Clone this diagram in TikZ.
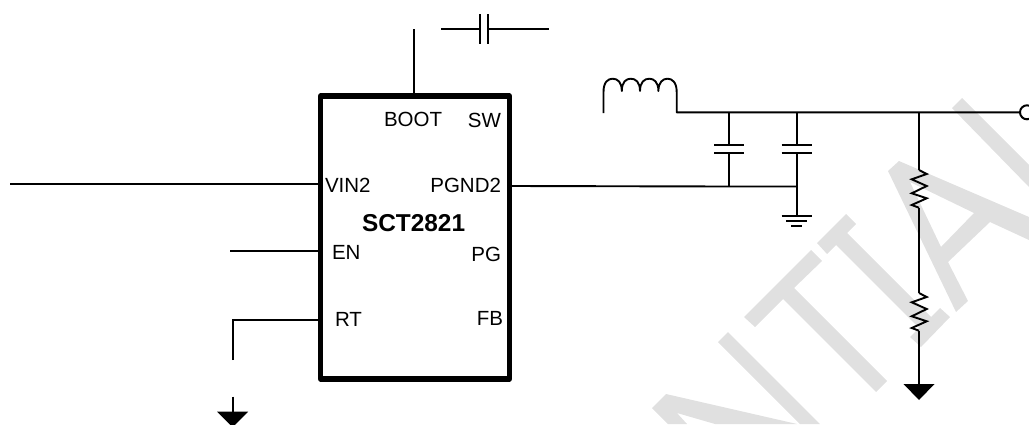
\documentclass[tikz,border=0pt]{standalone}
\usepackage{fontspec}
\setmainfont{Liberation Sans}
\usetikzlibrary{calc}
\definecolor{wmgray}{HTML}{E0E0E0}
\tikzset{
  wire/.style={draw=black,line width=1.9pt,line join=miter},
  plate/.style={draw=black,line width=2pt},
  wm/.style={fill=wmgray,draw=none},
  icbox/.style={draw=black,line width=5.4pt,line join=round,rectangle,inner sep=0pt,outer sep=0pt,minimum width=188.5pt,minimum height=283pt},
  pinlabel/.style={inner sep=0pt,outer sep=0pt,anchor=base west,font=\fontsize{20.5}{24}\selectfont},
  pinlabelr/.style={inner sep=0pt,outer sep=0pt,anchor=base east,font=\fontsize{20.5}{24}\selectfont},
  chipname/.style={inner sep=0pt,outer sep=0pt,anchor=base west,font=\fontsize{24.4}{28}\selectfont\bfseries},
  gndtri/.style={fill=black,draw=none},
}
\begin{document}
\begin{tikzpicture}[x=1pt,y=-1pt]
\clip (0,0) rectangle (1029,424);
\useasboundingbox (0,0) rectangle (1029,424);
% watermark
\fill[wm] (962,98) -- (1029,165) -- (1029,187) -- (952,108) -- cycle;
\fill[wm,even odd rule] (899,161) -- (1029,217) -- (1029,240) -- (990,222) -- (948,262) -- (968,301) -- (956,312) -- (888,171) -- cycle
      (910,182) -- (974,213) -- (941,247) -- cycle;
\fill[wm] (817,243) -- (846,214) -- (856,224) -- (847,233) -- (931,317) -- (940,308) -- (950,317) -- (921,347) -- (910,337) -- (919,328) -- (836,245) -- (827,254) -- cycle;
\fill[wm] (744,317) -- (811,250) -- (822,261) -- (794,288) -- (887,381) -- (876,392) -- (783,299) -- (755,327) -- cycle;
\fill[wm] (718,342) -- (728,332) -- (820,424) -- (800,424) -- cycle;
\fill[wm] (652,408) -- (666,394) -- (797,424) -- (715,424) -- (677,413) -- (687,424) -- (668,424) -- cycle;
% IC
\node[icbox] (ic) at (415,237.5) {};
\node[pinlabel] (lboot) at (384,126.7) {BOOT};
\node[pinlabelr] (lsw) at (501,127) {SW};
\node[pinlabel] (lvin) at (325,192.7) {VIN2};
\node[pinlabelr] (lpgnd) at (501,192.7) {PGND2};
\node[chipname] (lchip) at (362,231) {SCT2821};
\node[pinlabel] (len) at (332,259) {EN};
\node[pinlabelr] (lpg) at (501,261) {PG};
\node[pinlabel] (lrt) at (335,326) {RT};
\node[pinlabelr] (lfb) at (503,325) {FB};
% named points
\coordinate (bootpin) at (414.3,96);
\coordinate (boottop) at (414.3,29);
\coordinate (vinpin) at (318,184);
\coordinate (vinend) at (10,184);
\coordinate (enpin) at (318,251);
\coordinate (enend) at (230,251);
\coordinate (rtpin) at (318,320);
\coordinate (rtcorner) at (232.7,320);
\coordinate (rtend) at (232.7,360);
\coordinate (gndltop) at (232.7,396.7);
\coordinate (gndlbase) at (232.7,411.7);
\coordinate (pgndpin) at (511,186);
\coordinate (c1bot) at (729.3,186.5);
\coordinate (c2bot) at (796.7,186.5);
\coordinate (c1top) at (729.3,112.3);
\coordinate (c2top) at (796.7,112.3);
\coordinate (c1a) at (729.3,145);
\coordinate (c1b) at (729.3,152.7);
\coordinate (c2a) at (796.7,145);
\coordinate (c2b) at (796.7,152.7);
\coordinate (gndc) at (796.7,216);
\coordinate (capl) at (441,29.3);
\coordinate (capa) at (480.3,29.3);
\coordinate (capb) at (488,29.3);
\coordinate (capr) at (548.5,29.3);
\coordinate (lstart) at (603.5,113);
\coordinate (lend) at (676.7,112.3);
\coordinate (rnode) at (919,112.3);
\coordinate (r1t) at (919,170);
\coordinate (r1b) at (919,207.7);
\coordinate (r2t) at (919,293);
\coordinate (r2b) at (919,330.7);
\coordinate (gndrbase) at (919,384);
\node[circle,draw=black,line width=2pt,minimum size=14pt,inner sep=0pt,outer sep=0pt,fill=white] (vout) at (1027,112.3) {};
% wires
\draw[wire] (boottop) -- (bootpin);
\draw[wire] (vinend) -- (vinpin);
\draw[wire] (enend) -- (enpin);
\draw[wire] (rtend) -- (rtcorner) -- (rtpin);
\draw[wire] (gndltop) -- (gndlbase);
\fill[gndtri] ($(gndlbase)+(-15.5,0)$) -- ($(gndlbase)+(15.5,0)$) -- ($(gndlbase)+(0,15.5)$) -- cycle;
\draw[wire] (pgndpin) -- (c1bot) -- (c2bot);
% boot capacitor
\draw[wire] (capl) -- (capa);
\draw[wire] (capb) -- (capr);
\draw[plate] ($(capa)+(0,-15)$) -- ($(capa)+(0,15)$);
\draw[plate] ($(capb)+(0,-15)$) -- ($(capb)+(0,15)$);
% inductor
\draw[wire,line join=round] (lstart) -- (603.5,92)
  .. controls (603.5,82) and (608,78.7) .. (612.7,78.7)
  .. controls (617.5,78.7) and (621.8,82) .. (621.8,91)
  .. controls (621.8,82) and (626,78.7) .. (630.8,78.7)
  .. controls (635.6,78.7) and (640,82) .. (640,91)
  .. controls (640,82) and (644.5,78.7) .. (649.2,78.7)
  .. controls (654,78.7) and (658.4,82) .. (658.4,91)
  .. controls (658.4,82) and (663,78.7) .. (667.5,78.7)
  .. controls (672,78.7) and (676.7,82) .. (676.7,92)
  -- (lend) -- (vout.west);
% output caps
\draw[wire] (c1top) -- (c1a);
\draw[wire] (c1b) -- (c1bot);
\draw[plate] ($(c1a)+(-15,0)$) -- ($(c1a)+(15,0)$);
\draw[plate] ($(c1b)+(-15,0)$) -- ($(c1b)+(15,0)$);
\draw[wire] (c2top) -- (c2a);
\draw[wire] (c2b) -- (gndc);
\draw[plate] ($(c2a)+(-15,0)$) -- ($(c2a)+(15,0)$);
\draw[plate] ($(c2b)+(-15,0)$) -- ($(c2b)+(15,0)$);
\draw[plate] ($(gndc)+(-15,0)$) -- ($(gndc)+(15,0)$);
\draw[plate] ($(gndc)+(-10.5,5)$) -- ($(gndc)+(10.5,5)$);
\draw[plate] ($(gndc)+(-5.5,9.7)$) -- ($(gndc)+(5.5,9.7)$);
% divider
\draw[wire] (rnode) -- (r1t);
\draw[wire] (r1t) -- ++(7.7,4) -- ++(-15,5.3) -- ++(15,6.7) -- ++(-15,7.3) -- ++(15,5) -- ++(-15,6.7) -- (r1b);
\draw[wire] (r1b) -- (r2t);
\draw[wire] (r2t) -- ++(7.7,4) -- ++(-15,5.3) -- ++(15,6.7) -- ++(-15,7.3) -- ++(15,5) -- ++(-15,6.7) -- (r2b);
\draw[wire] (r2b) -- (gndrbase);
\fill[gndtri] ($(gndrbase)+(-15.5,0)$) -- ($(gndrbase)+(15.5,0)$) -- ($(gndrbase)+(0,16)$) -- cycle;
\end{tikzpicture}
\end{document}
